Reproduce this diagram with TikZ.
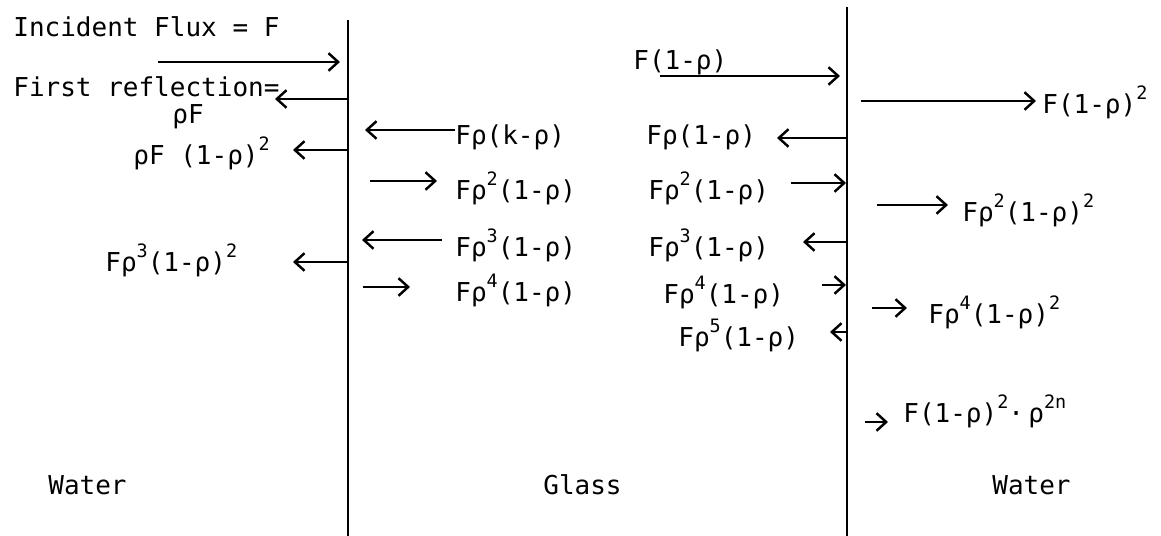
\documentclass[tikz,border=0pt]{standalone}
\usepackage{fontspec}
\setmonofont{DejaVu Sans Mono}
\usetikzlibrary{arrows.meta}
\newcommand\expo[1]{\raisebox{1.05ex}{\fontsize{10.5}{11}\selectfont#1}}
\tikzset{
  flux/.style={-{Straight Barb[length=5.5pt,width=10pt]}, line width=1.4pt},
  iface/.style={line width=1.5pt},
  lbl/.style={font=\ttfamily\fontsize{14.8}{17}\selectfont, inner sep=0pt, anchor=base west},
}

\begin{document}
\begin{tikzpicture}[x=0.02cm, y=-0.02cm]
  \useasboundingbox (0,0) rectangle (1161,536);

  % the two interfaces
  \coordinate (Ltop) at (348,20);  \coordinate (Lbot) at (348,536);
  \coordinate (Rtop) at (847,7);   \coordinate (Rbot) at (847,536);
  \draw[iface] (Ltop) -- (Lbot);
  \draw[iface] (Rtop) -- (Rbot);

  % left water
  \node[lbl] (inc)  at (13,37)  {Incident Flux = F};
  \node[lbl] (refl) at (13,97)  {First reflection=};
  \node[lbl] (rF)   at (172,124) {ρF};
  \node[lbl] (rF2)  at (133,165) {ρF (1-ρ)\expo{2}};
  \node[lbl] (lw3)  at (105,272) {Fρ\expo{3}(1-ρ)\expo{2}};

  % glass
  \node[lbl] (g1) at (455,145) {Fρ(k-ρ)};
  \node[lbl] (g2) at (455,200) {Fρ\expo{2}(1-ρ)};
  \node[lbl] (g3) at (455,257) {Fρ\expo{3}(1-ρ)};
  \node[lbl] (g4) at (455,302) {Fρ\expo{4}(1-ρ)};
  \node[lbl] (h0) at (633,70)  {F(1-ρ)};
  \node[lbl] (h1) at (646,145) {Fρ(1-ρ)};
  \node[lbl] (h2) at (648,200) {Fρ\expo{2}(1-ρ)};
  \node[lbl] (h3) at (648,257) {Fρ\expo{3}(1-ρ)};
  \node[lbl] (h4) at (663,304) {Fρ\expo{4}(1-ρ)};
  \node[lbl] (h5) at (678,347) {Fρ\expo{5}(1-ρ)};

  % right water
  \node[lbl] (w1) at (1042,114) {F(1-ρ)\expo{2}};
  \node[lbl] (w2) at (962,222)  {Fρ\expo{2}(1-ρ)\expo{2}};
  \node[lbl] (w3) at (928,324)  {Fρ\expo{4}(1-ρ)\expo{2}};
  \node[lbl] (w4) at (903,423)  {F(1-ρ)\expo{2}·\,ρ\expo{2n}};

  \node[lbl] (wat1)  at (48,495)  {Water};
  \node[lbl] (glass) at (543,495) {Glass};
  \node[lbl] (wat2)  at (992,495) {Water};

  % arrow ends
  \foreach \n/\xa/\ya/\xb/\yb in {
      in/158/62/340/62, fr/348/99/275/99, fa/348/150/293/150, fb/348/262/293/262,
      ga/455/130/365/130, gb/370/181/437/181, gc/442/240/362/240, gd/363/287/410/287,
      ha/660/76/840/76, hb/847/138/777/138, hc/791/183/846/183, hd/847/242/803/242,
      he/822/285/846/285, hf/847/332/830/332,
      wa/861/101/1036/101, wb/877/205/948/205, wc/872/308/907/308, wd/865/422/888/422}
    {\coordinate (\n s) at (\xa,\ya); \coordinate (\n e) at (\xb,\yb);}

  \foreach \n in {in,fr,fa,fb,ga,gb,gc,gd,ha,hb,hc,hd,he,hf,wa,wb,wc,wd}
    \draw[flux] (\n s) -- (\n e);
\end{tikzpicture}
\end{document}
